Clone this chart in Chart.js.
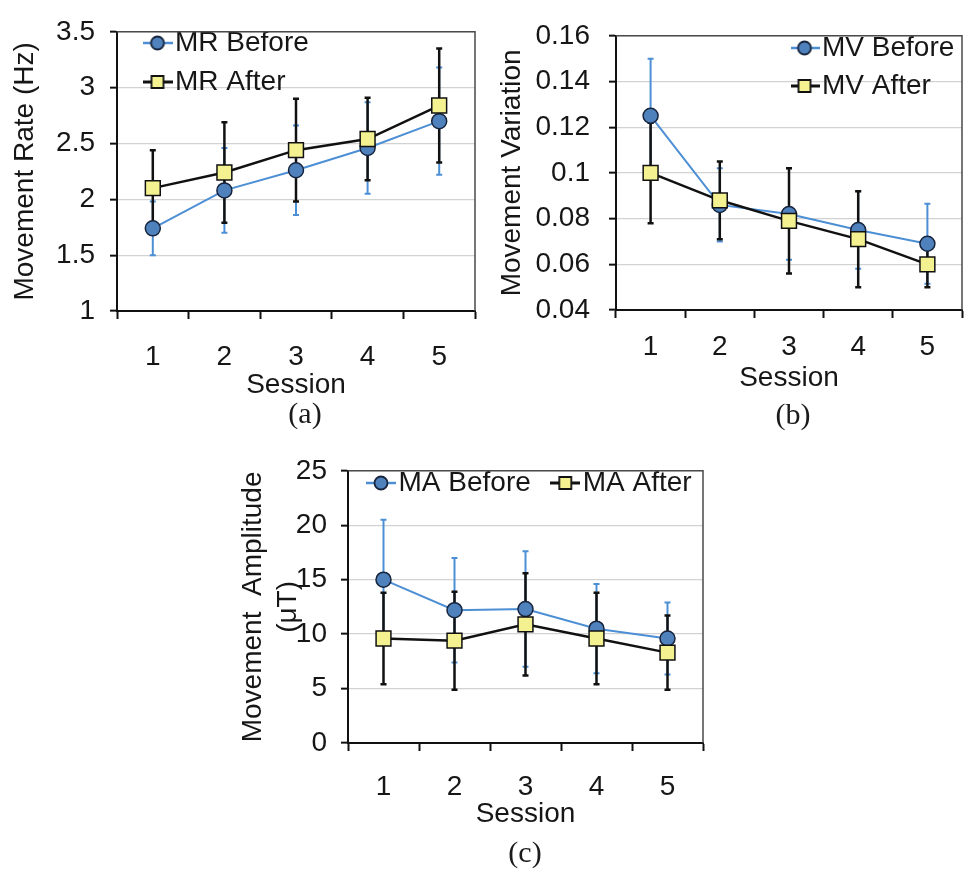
<!DOCTYPE html>
<html>
<head>
<meta charset="utf-8">
<title>Movement before / after</title>
<script src="https://cdn.jsdelivr.net/npm/chart.js@4.4.1/dist/chart.umd.min.js"></script>
<style>
  body { margin: 0; background: #fff; }
  #page { position: relative; width: 974px; height: 869px; overflow: hidden; background: #fff; }
  canvas { position: absolute; }
  .cap { position: absolute; font: 30px "Liberation Serif", "Times New Roman", serif; color: #1a1a1a; transform: translate(-50%, -50%); }
</style>
</head>
<body>
<div id="page">
  <canvas id="chartA" width="487" height="405" style="left:0;top:0"></canvas>
  <canvas id="chartB" width="484" height="405" style="left:490px;top:0"></canvas>
  <canvas id="chartC" width="500" height="400" style="left:220px;top:440px"></canvas>
  <div class="cap" style="left:305px;top:413px">(a)</div>
  <div class="cap" style="left:793px;top:414px">(b)</div>
  <div class="cap" style="left:525px;top:852px">(c)</div>
</div>
<script>
// sessions on the x axis
const sessions = ['1', '2', '3', '4', '5'];

// (a) movement rate, Hz
const mrBefore = [1.74, 2.08, 2.26, 2.46, 2.70];
const mrBeforeErr = [0.24, 0.38, 0.40, 0.41, 0.48];
const mrAfter = [2.10, 2.24, 2.44, 2.54, 2.84];
const mrAfterErr = [0.34, 0.45, 0.46, 0.37, 0.51];
const mrTicks = [1, 1.5, 2, 2.5, 3, 3.5];

// (b) movement variation
const mvBefore = [0.125, 0.086, 0.082, 0.075, 0.069];
const mvBeforeErr = [0.025, 0.016, 0.020, 0.017, 0.0175];
const mvAfter = [0.100, 0.088, 0.079, 0.071, 0.060];
const mvAfterErr = [0.022, 0.017, 0.023, 0.021, 0.010];
const mvTicks = [0.04, 0.06, 0.08, 0.1, 0.12, 0.14, 0.16];

// (c) movement amplitude, uT
const maBefore = [15.0, 12.2, 12.3, 10.5, 9.6];
const maBeforeErr = [5.5, 4.8, 5.3, 4.1, 3.3];
const maAfter = [9.6, 9.4, 10.9, 9.6, 8.3];
const maAfterErr = [4.2, 4.5, 4.7, 4.2, 3.4];
const maTicks = [0, 5, 10, 15, 20, 25];

const BLUE_LINE = '#4d8fd5';
const BLUE_FILL = '#4f81bd';
const NAVY = '#17243b';
const YELLOW = '#f4f290';
const INK = '#111';

Chart.defaults.font.family = '"Liberation Sans", Arial, sans-serif';
Chart.defaults.font.size = 28;
Chart.defaults.color = '#161616';
Chart.defaults.animation = false;

// small line + marker picture for the legend
function legendIcon(ds) {
  const c = document.createElement('canvas');
  c.width = 30;
  c.height = 18;
  const g = c.getContext('2d');
  g.strokeStyle = ds.borderColor;
  g.lineWidth = ds.borderWidth + 0.5;
  g.beginPath();
  g.moveTo(0, 9);
  g.lineTo(30, 9);
  g.stroke();
  g.fillStyle = ds.pointBackgroundColor;
  g.strokeStyle = ds.pointBorderColor;
  g.lineWidth = 1.8;
  g.beginPath();
  if (ds.pointStyle === 'circle') g.arc(15, 9, 6.5, 0, Math.PI * 2);
  else g.rect(9, 3, 12, 12);
  g.fill();
  g.stroke();
  return c;
}

// top + right edges of the plot box
const plotFrame = {
  id: 'plotFrame',
  beforeDatasetsDraw(chart) {
    const { ctx, chartArea: a } = chart;
    ctx.save();
    ctx.strokeStyle = '#4a4a4a';
    ctx.lineWidth = 1.5;
    ctx.beginPath();
    ctx.moveTo(a.left, a.top);
    ctx.lineTo(a.right, a.top);
    ctx.lineTo(a.right, a.bottom);
    ctx.stroke();
    ctx.restore();
  }
};

// vertical +/- error bars, placed with the chart's own y scale
const errorBars = {
  id: 'errorBars',
  beforeDatasetsDraw(chart) {
    const ctx = chart.ctx;
    const y = chart.scales.y;
    chart.data.datasets.forEach((ds, i) => {
      const meta = chart.getDatasetMeta(i);
      ctx.save();
      ctx.strokeStyle = ds.errorColor;
      ctx.lineWidth = ds.errorWidth;
      ds.data.forEach((v, j) => {
        const x = meta.data[j].x;
        const top = y.getPixelForValue(v + ds.errors[j]);
        const bottom = y.getPixelForValue(v - ds.errors[j]);
        ctx.beginPath();
        ctx.moveTo(x, top);
        ctx.lineTo(x, bottom);
        ctx.moveTo(x - 3, top);
        ctx.lineTo(x + 3, top);
        ctx.moveTo(x - 3, bottom);
        ctx.lineTo(x + 3, bottom);
        ctx.stroke();
      });
      ctx.restore();
    });
  }
};

// move the legend box inside the plot, where the original has it
const legendSpot = {
  id: 'legendSpot',
  afterLayout(chart, args, opts) {
    const lg = chart.legend;
    if (!lg) return;
    lg.left = opts.x;
    lg.top = opts.y;
    lg.right = opts.x + opts.w;
    lg.bottom = opts.y + opts.h;
  }
};

function makeChart(id, s) {
  return new Chart(document.getElementById(id), {
    type: 'line',
    data: {
      labels: sessions,
      datasets: [
        {
          label: s.names[0], data: s.before, errors: s.beforeErr,
          errorColor: BLUE_LINE, errorWidth: 2, order: 1,
          borderColor: BLUE_LINE, borderWidth: 2,
          pointStyle: 'circle', pointRadius: 7.5,
          pointBackgroundColor: BLUE_FILL, pointBorderColor: NAVY, pointBorderWidth: 1.5
        },
        {
          label: s.names[1], data: s.after, errors: s.afterErr,
          errorColor: INK, errorWidth: 2.5, order: 0,
          borderColor: INK, borderWidth: 2.5,
          pointStyle: 'rect', pointRadius: 10.5,
          pointBackgroundColor: YELLOW, pointBorderColor: INK, pointBorderWidth: 1.5
        }
      ]
    },
    options: {
      responsive: false,
      events: [],
      layout: { padding: s.pad },
      scales: {
        x: {
          offset: true,
          grid: { offset: true, drawOnChartArea: false, drawTicks: true, tickLength: 8, tickColor: INK, tickWidth: 2 },
          border: { color: INK, width: 2 },
          ticks: { padding: s.xPad },
          title: { display: true, text: 'Session', padding: 0 },
          afterFit: sc => { sc.height = s.xH; }
        },
        y: {
          min: s.ticks[0],
          max: s.ticks[s.ticks.length - 1],
          afterBuildTicks: sc => { sc.ticks = s.ticks.map(v => ({ value: v })); },
          grid: { color: '#d2d2d2', lineWidth: 1.3, tickLength: 7, tickColor: INK, tickWidth: 2 },
          border: { color: INK, width: 2 },
          ticks: { padding: s.yPad, callback: v => String(v) },
          title: {
            display: true, text: s.yTitle,
            padding: { top: s.titlePad, bottom: 0 },
            font: { lineHeight: s.titleLH }
          },
          afterFit: sc => { sc.width = s.yW; }
        }
      },
      plugins: {
        legend: {
          position: s.legendPos,
          align: 'start',
          maxHeight: 0.001,
          labels: {
            usePointStyle: true,
            pointStyleWidth: 7,
            padding: s.legend.padding,
            color: '#161616',
            sort: (a, b) => a.datasetIndex - b.datasetIndex,
            generateLabels: chart => Chart.defaults.plugins.legend.labels.generateLabels(chart)
              .map(item => Object.assign(item, { pointStyle: legendIcon(chart.data.datasets[item.datasetIndex]) }))
          }
        },
        tooltip: { enabled: false },
        legendSpot: s.legend
      }
    },
    plugins: [plotFrame, errorBars, legendSpot]
  });
}

makeChart('chartA', {
  names: ['MR Before', 'MR After'],
  before: mrBefore, beforeErr: mrBeforeErr, after: mrAfter, afterErr: mrAfterErr,
  ticks: mrTicks, yTitle: 'Movement Rate (Hz)', titlePad: 8, titleLH: 1.2,
  pad: { left: 0, top: 18, right: 7, bottom: 3 },
  yW: 117, xH: 91, yPad: 15, xPad: 21,
  legendPos: 'chartArea',
  legend: { x: 143, y: 18, w: 330, h: 140, padding: 11 }
});

makeChart('chartB', {
  names: ['MV Before', 'MV After'],
  before: mvBefore, beforeErr: mvBeforeErr, after: mvAfter, afterErr: mvAfterErr,
  ticks: mvTicks, yTitle: 'Movement Variation', titlePad: 5, titleLH: 1.2,
  pad: { left: 0, top: 21, right: 2, bottom: 10 },
  yW: 126, xH: 85, yPad: 19, xPad: 12,
  legendPos: 'chartArea',
  legend: { x: 301, y: 24, w: 180, h: 140, padding: 10 }
});

makeChart('chartC', {
  names: ['MA Before', 'MA After'],
  before: maBefore, beforeErr: maBeforeErr, after: maAfter, afterErr: maAfterErr,
  ticks: maTicks, yTitle: ['Movement  Amplitude', '(\u03bcT)'], titlePad: 15.5, titleLH: 1.25,
  pad: { left: 0, top: 18, right: 17, bottom: 9 },
  yW: 128, xH: 88, yPad: 14, xPad: 19,
  legendPos: 'top',
  legend: { x: 126.5, y: -2, w: 440, h: 70, padding: 31 }
});
</script>
</body>
</html>
